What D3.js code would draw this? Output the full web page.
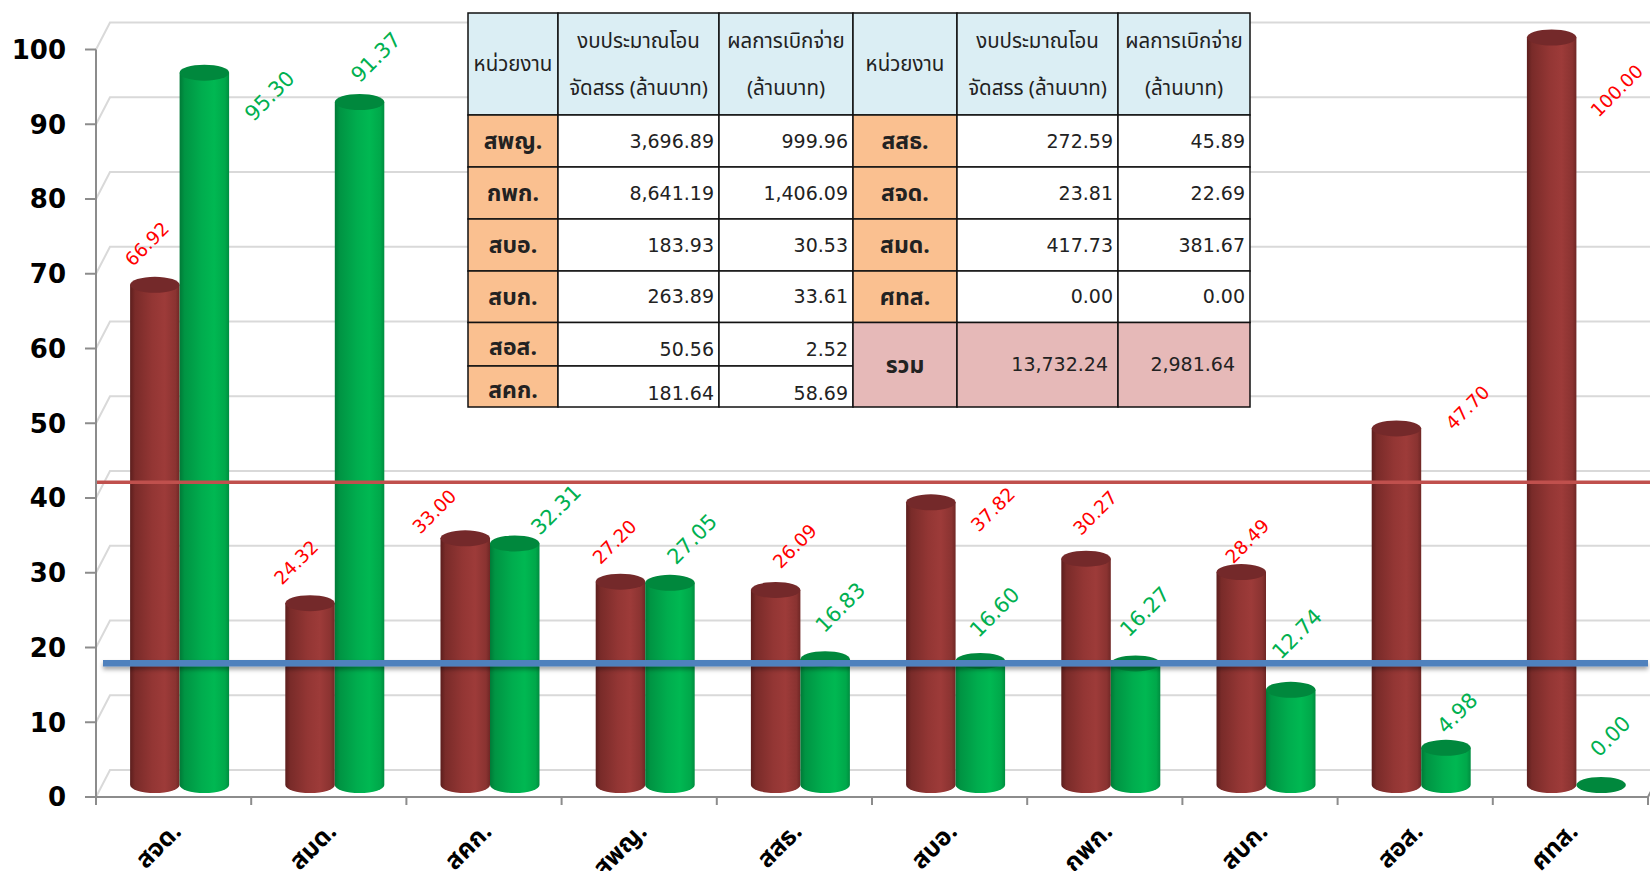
<!DOCTYPE html>
<html>
<head>
<meta charset="utf-8">
<script src="https://cdn.jsdelivr.net/npm/d3@7"></script>
<style>
  body { margin: 0; background: #fff; }
  svg { display: block; }
</style>
</head>
<body>
<svg width="1650" height="871"></svg>
<script>
// ---- chart data ----
const categories = ["สจด.", "สมด.", "สคก.", "สพญ.", "สสธ.", "สบอ.", "กพก.", "สบก.", "สอส.", "ศทส."];
const redValues = [66.92, 24.32, 33.00, 27.20, 26.09, 37.82, 30.27, 28.49, 47.70, 100.00];
const greenValues = [95.30, 91.37, 32.31, 27.05, 16.83, 16.60, 16.27, 12.74, 4.98, 0.00];
const yTicks = [0, 10, 20, 30, 40, 50, 60, 70, 80, 90, 100];
const redLineValue = 42.1;
const blueLineValue = 17.9;

// labels were dragged by hand in the original, offsets from the cylinder top
const redLabelNudge = [[-8, -41], [-14, -41], [-31, -27], [-6, -40], [19, -44], [62, 7], [9, -46], [6, -31], [71, -21], [65, 53]];
const greenLabelNudge = [[65, 23], [16, -45], [41, -34], [22, -44], [15, -52], [14, -49], [9, -52], [6, -56], [11, -35], [9, -49]];

// ---- table data ----
const headUnit = "หน่วยงาน";
const headBudget = ["งบประมาณโอน", "จัดสรร (ล้านบาท)"];
const headPaid = ["ผลการเบิกจ่าย", "(ล้านบาท)"];
const leftUnits = ["สพญ.", "กพก.", "สบอ.", "สบก.", "สอส.", "สคก."];
const leftBudget = [3696.89, 8641.19, 183.93, 263.89, 50.56, 181.64];
const leftPaid = [999.96, 1406.09, 30.53, 33.61, 2.52, 58.69];
const rightUnits = ["สสธ.", "สจด.", "สมด.", "ศทส."];
const rightBudget = [272.59, 23.81, 417.73, 0.00];
const rightPaid = [45.89, 22.69, 381.67, 0.00];
const totalLabel = "รวม";
const totalBudget = 13732.24;
const totalPaid = 2981.64;

const thaiFont = "Tahoma, 'Noto Sans Thai', 'Noto Sans Thai UI', Loma, Garuda, 'DejaVu Sans', sans-serif";
const numFont = "'DejaVu Sans', Tahoma, sans-serif";

const svg = d3.select("svg");
const width = +svg.attr("width");

const x = d3.scaleBand().domain(categories).range([96, 1648]);
const y = d3.scaleLinear().domain([0, 100]).range([797, 49.5]);
const depth = { dx: 14, dy: -27 };   // back wall offset
const barLift = 12;                    // cylinders stand half way into the floor
const barW = 49.5;
const ry = 8;
const inner = d3.scaleBand().domain(["red", "green"]).range([0, 2 * barW]);
const barCx = (c, s) => x(c) + x.bandwidth() / 2 + 6 - barW + inner(s) + barW / 2;
const barTop = v => y(v) - barLift;

const defs = svg.append("defs");
function cylGradient(id, stops) {
    const g = defs.append("linearGradient").attr("id", id)
        .attr("x1", "0%").attr("x2", "100%").attr("y1", "0%").attr("y2", "0%");
    stops.forEach(s => g.append("stop").attr("offset", s[0]).attr("stop-color", s[1]));
}
cylGradient("gradRed", [["0%", "#5c1e1d"], ["10%", "#792b29"], ["45%", "#933634"], ["70%", "#9d3b39"], ["92%", "#8a3331"], ["100%", "#6f2725"]]);
cylGradient("gradGreen", [["0%", "#007a37"], ["10%", "#009443"], ["45%", "#00ad4e"], ["70%", "#00b852"], ["92%", "#00a84a"], ["100%", "#008d40"]]);

const shadow = defs.append("filter").attr("id", "lineShadow")
    .attr("filterUnits", "userSpaceOnUse")
    .attr("x", 0).attr("y", 0).attr("width", width).attr("height", 871);
shadow.append("feDropShadow").attr("dx", 0).attr("dy", 3).attr("stdDeviation", 2)
    .attr("flood-color", "#000").attr("flood-opacity", 0.35);

// ---- walls & grid ----
const grid = svg.append("g");
yTicks.forEach(t => {
    grid.append("path")
        .attr("d", `M96,${y(t)} L${96 + depth.dx},${y(t) + depth.dy} L${width},${y(t) + depth.dy}`)
        .attr("fill", "none").attr("stroke", "#d9d9d9").attr("stroke-width", 2);
});

const axis = svg.append("g").attr("stroke", "#8c8c8c").attr("stroke-width", 2);
axis.append("line").attr("x1", 96).attr("x2", 96).attr("y1", y(0)).attr("y2", y(100));
yTicks.forEach(t => {
    axis.append("line").attr("x1", 85).attr("x2", 96).attr("y1", y(t)).attr("y2", y(t));
});
axis.append("path")
    .attr("d", `M96,${y(0)} L1648,${y(0)} L${1648 + depth.dx},${y(0) + depth.dy}`)
    .attr("fill", "none");
d3.range(categories.length + 1).forEach(i => {
    const xx = 96 + i * x.step();
    axis.append("line").attr("x1", xx).attr("x2", xx).attr("y1", y(0)).attr("y2", y(0) + 8);
});

svg.append("g").selectAll("text")
    .data(yTicks)
    .enter().append("text")
    .attr("x", 66)
    .attr("y", d => y(d))
    .attr("dy", "0.36em")
    .attr("text-anchor", "end")
    .style("font-family", numFont)
    .style("font-weight", "bold")
    .style("font-size", "26px")
    .style("fill", "#000")
    .text(d => d);

// ---- table ----
const colX = [468, 558, 719, 853, 957, 1118, 1250];
const rowY = [13, 115, 167, 219, 271, 322.5, 366, 407];
const fmt = d3.format(",.2f");
const cells = [];
const headers = [[headUnit], headBudget, headPaid, [headUnit], headBudget, headPaid];
headers.forEach((lines, j) => cells.push({ c0: j, c1: j + 1, r0: 0, r1: 1, fill: "#dbeef4", lines: lines, align: "middle", bold: false }));
leftUnits.forEach((u, i) => {
    cells.push({ c0: 0, c1: 1, r0: i + 1, r1: i + 2, fill: "#fac090", lines: [u], align: "middle", bold: true, drop: i >= 4 ? 3 : 0 });
    cells.push({ c0: 1, c1: 2, r0: i + 1, r1: i + 2, fill: "#fff", lines: [fmt(leftBudget[i])], align: "end", num: true, drop: i == 4 ? 5 : i == 5 ? 7 : 0 });
    cells.push({ c0: 2, c1: 3, r0: i + 1, r1: i + 2, fill: "#fff", lines: [fmt(leftPaid[i])], align: "end", num: true, drop: i == 4 ? 5 : i == 5 ? 7 : 0 });
});
rightUnits.forEach((u, i) => {
    cells.push({ c0: 3, c1: 4, r0: i + 1, r1: i + 2, fill: "#fac090", lines: [u], align: "middle", bold: true });
    cells.push({ c0: 4, c1: 5, r0: i + 1, r1: i + 2, fill: "#fff", lines: [fmt(rightBudget[i])], align: "end", num: true });
    cells.push({ c0: 5, c1: 6, r0: i + 1, r1: i + 2, fill: "#fff", lines: [fmt(rightPaid[i])], align: "end", num: true });
});
cells.push({ c0: 3, c1: 4, r0: 5, r1: 7, fill: "#e6b9b8", lines: [totalLabel], align: "middle", bold: true });
cells.push({ c0: 4, c1: 5, r0: 5, r1: 7, fill: "#e6b9b8", lines: [fmt(totalBudget)], align: "end", num: true, pad: 10 });
cells.push({ c0: 5, c1: 6, r0: 5, r1: 7, fill: "#e6b9b8", lines: [fmt(totalPaid)], align: "end", num: true, pad: 15 });

const table = svg.append("g");
const cell = table.selectAll("g.cell").data(cells).enter().append("g").attr("class", "cell");
cell.append("rect")
    .attr("x", d => colX[d.c0]).attr("y", d => rowY[d.r0])
    .attr("width", d => colX[d.c1] - colX[d.c0]).attr("height", d => rowY[d.r1] - rowY[d.r0])
    .attr("fill", d => d.fill)
    .attr("stroke", "#111").attr("stroke-width", 1.5);
cell.each(function (d) {
    const g = d3.select(this);
    const x0 = colX[d.c0], x1 = colX[d.c1];
    const cy = (rowY[d.r0] + rowY[d.r1]) / 2 + (d.drop || 0);
    const tx = d.align == "middle" ? (x0 + x1) / 2 : x1 - (d.pad || 5);
    const n = d.lines.length;
    d.lines.forEach((line, k) => {
        g.append("text")
            .attr("x", tx)
            .attr("y", cy + (k - (n - 1) / 2) * 47)
            .attr("dy", "0.35em")
            .attr("text-anchor", d.align)
            .style("font-family", d.num ? numFont : thaiFont)
            .style("font-size", d.num ? "19px" : (d.bold ? "23px" : "20.5px"))
            .style("font-weight", d.bold ? "bold" : "normal")
            .style("fill", "#222")
            .text(line);
    });
});

// ---- cylinders ----
function drawCylinders(values, series, fillId, topColor) {
    const g = svg.append("g");
    values.forEach((v, i) => {
        const cx = barCx(categories[i], series);
        const top = barTop(v), base = barTop(0);
        const l = cx - barW / 2, r = cx + barW / 2, rx = barW / 2;
        if (v > 0) {
            g.append("path")
                .attr("d", `M${l},${top} L${l},${base} A${rx},${ry} 0 0 0 ${r},${base} L${r},${top} Z`)
                .attr("fill", `url(#${fillId})`);
        }
        g.append("ellipse")
            .attr("cx", cx).attr("cy", top).attr("rx", rx).attr("ry", ry)
            .attr("fill", topColor);
    });
}
drawCylinders(redValues, "red", "gradRed", "#74292a");
drawCylinders(greenValues, "green", "gradGreen", "#00883d");

// ---- reference lines ----
svg.append("line")
    .attr("x1", 97).attr("x2", width)
    .attr("y1", y(redLineValue)).attr("y2", y(redLineValue))
    .attr("stroke", "#c0504d").attr("stroke-width", 3.5);
svg.append("line")
    .attr("x1", 103).attr("x2", 1648)
    .attr("y1", y(blueLineValue)).attr("y2", y(blueLineValue))
    .attr("stroke", "#4f81bd").attr("stroke-width", 6.5)
    .attr("filter", "url(#lineShadow)");

// ---- data labels ----
function drawLabels(values, series, nudge, color, size) {
    svg.append("g").selectAll("text")
        .data(values)
        .enter().append("text")
        .attr("transform", (d, i) => {
            const lx = barCx(categories[i], series) + nudge[i][0];
            const ly = barTop(d) + nudge[i][1];
            return `translate(${lx},${ly}) rotate(-45)`;
        })
        .attr("dy", "0.36em")
        .attr("text-anchor", "middle")
        .style("font-family", numFont)
        .style("font-size", size)
        .style("fill", color)
        .text(d => d.toFixed(2));
}
drawLabels(redValues, "red", redLabelNudge, "#ff0000", "18.5px");
drawLabels(greenValues, "green", greenLabelNudge, "#00b050", "21px");

// ---- category labels ----
svg.append("g").selectAll("text")
    .data(categories)
    .enter().append("text")
    .attr("transform", d => `translate(${x(d) + x.bandwidth() / 2 + 9},${y(0) + 36}) rotate(-45)`)
    .attr("text-anchor", "end")
    .style("font-family", thaiFont)
    .style("font-weight", "bold")
    .style("font-size", "25px")
    .style("fill", "#000")
    .text(d => d);
</script>
</body>
</html>
